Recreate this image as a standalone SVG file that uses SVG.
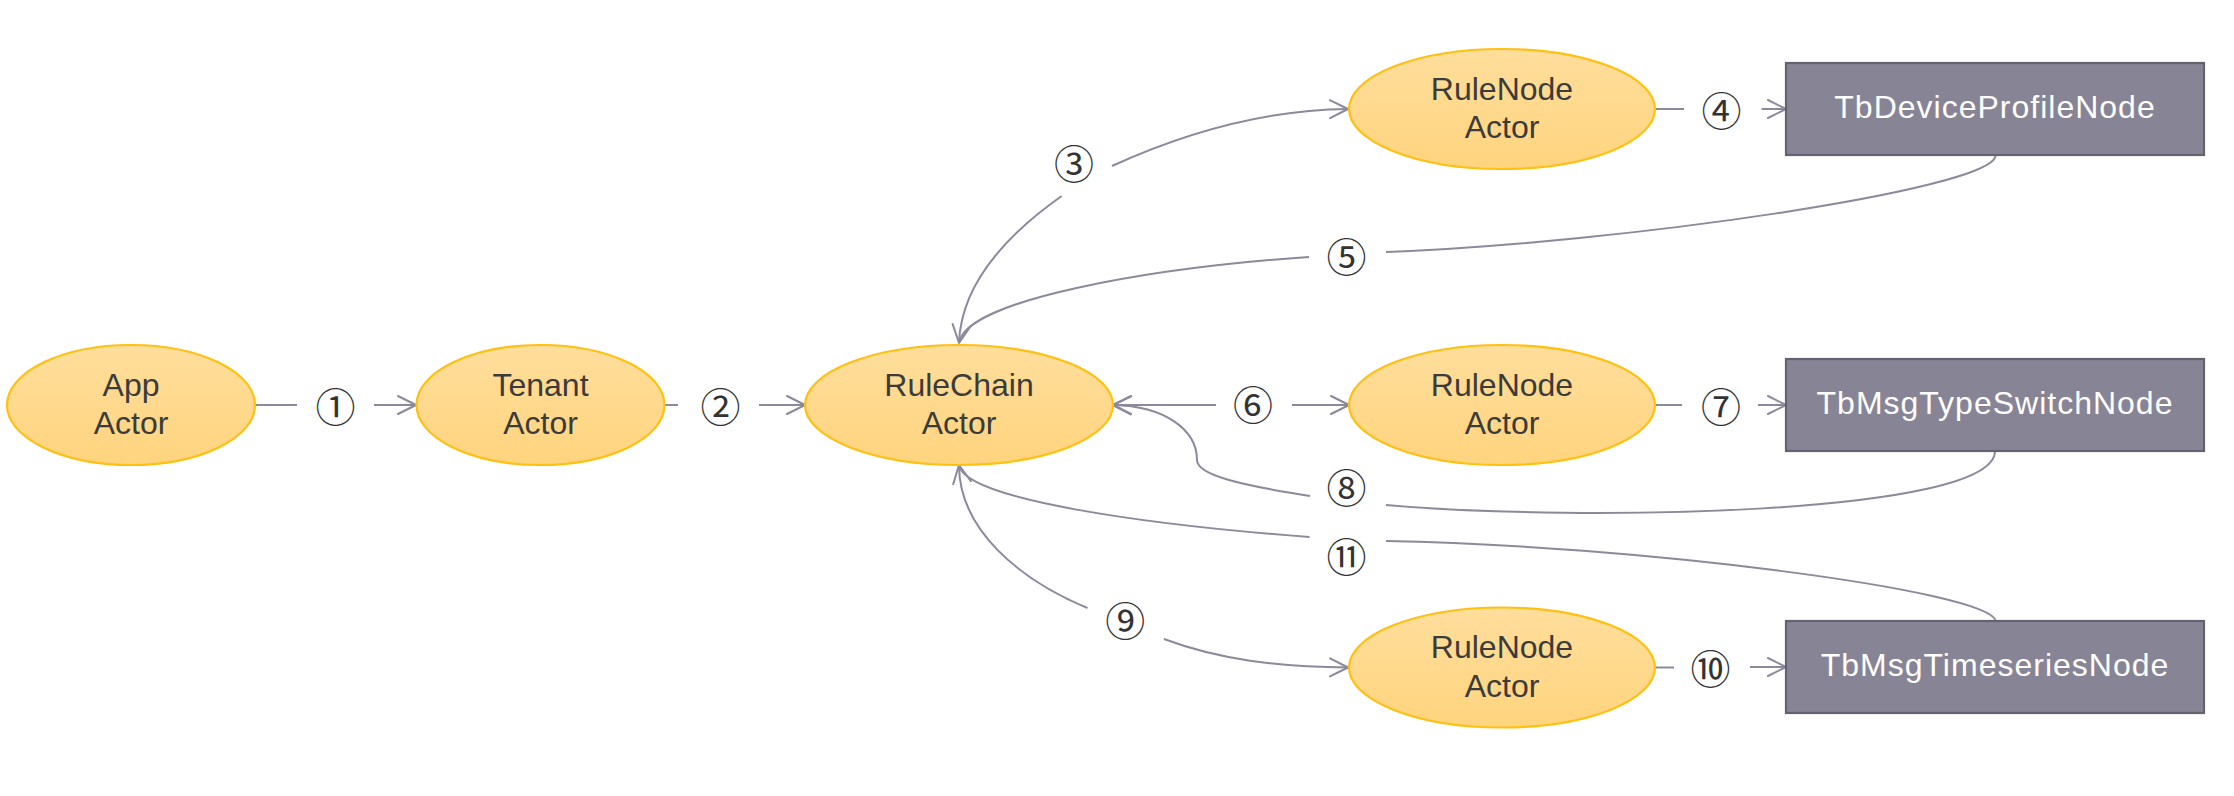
<svg xmlns="http://www.w3.org/2000/svg" width="2234" height="796" viewBox="0 0 2234 796">
<style>
.actor ellipse{fill:url(#gold);stroke:#FFC010;stroke-width:2.2}
.actor text{font-family:"Liberation Sans",Arial,sans-serif;font-size:32px;fill:#3b3b3b;text-anchor:middle}
.box rect{fill:#878496;stroke:#65626f;stroke-width:2.2}
.box text{font-family:"Liberation Sans",Arial,sans-serif;font-size:32px;fill:#ffffff;text-anchor:middle;letter-spacing:1px}
.conn path{fill:none;stroke:#8b899c;stroke-width:2}
.conn path.a{marker-end:url(#arr)}
.num{font-family:"Noto Sans CJK SC","Noto Sans CJK JP","DejaVu Sans",sans-serif;font-size:40px;fill:#333333;text-anchor:middle;dominant-baseline:central}
</style>
<defs>
<linearGradient id="gold" x1="0" y1="0" x2="0" y2="1">
<stop offset="0" stop-color="#FFDE9C"/>
<stop offset="1" stop-color="#FFD47E"/>
</linearGradient>
<marker id="arr" markerUnits="userSpaceOnUse" viewBox="-22 -12 26 24" markerWidth="26" markerHeight="24" refX="0" refY="0" orient="auto" overflow="visible">
<path d="M-18,-9 L0,0 L-18,9" fill="none" stroke="#8b899c" stroke-width="2" stroke-linejoin="round" stroke-linecap="round"/>
</marker>
</defs>
<rect width="2234" height="796" fill="#ffffff"/>

<g id="connectors" class="conn">
<path d="M255,405 H297"/>
<path class="a" d="M374,405 H416"/>
<path d="M664.5,405 H678"/>
<path class="a" d="M759,405 H805"/>
<path d="M1061.7,196 C1005,236 961,285 959,343"/>
<path class="a" d="M1112,166 C1180,135 1260,110 1348,109"/>
<path d="M1655,109 H1684"/>
<path class="a" d="M1761.6,109 H1786"/>
<path d="M1995.6,156 C1990,190 1620,243 1386,252"/>
<path class="a" d="M1309,257 C1150,268 965,300 959,343"/>
<path class="a" d="M1216,405 H1113"/>
<path class="a" d="M1292,405 H1349"/>
<path d="M1655,405 H1682"/>
<path class="a" d="M1758,405 H1786"/>
<path d="M1995,451 C1995,515 1580,522 1386,505"/>
<path class="a" d="M1310,496 C1240,485 1197,475 1197,460 C1197,430 1165,406 1113,405"/>
<path d="M959,465 C959,530 1020,580 1087.5,608"/>
<path class="a" d="M1164,639 C1220,660 1280,667 1348,667.5"/>
<path d="M1655.6,667.5 H1674"/>
<path class="a" d="M1750,667 H1786"/>
<path d="M1995.6,621 C1990,590 1630,545 1386,541"/>
<path class="a" d="M1309.5,537 C1150,525 965,500 959,465"/>
</g>

<g id="labels">
<text class="num" x="335.6" y="405">①</text>
<text class="num" x="720.6" y="405">②</text>
<text class="num" x="1074" y="162">③</text>
<text class="num" x="1721.5" y="109">④</text>
<text class="num" x="1346.6" y="255">⑤</text>
<text class="num" x="1253" y="403">⑥</text>
<text class="num" x="1721" y="405">⑦</text>
<text class="num" x="1346.6" y="486">⑧</text>
<text class="num" x="1125.3" y="619">⑨</text>
<text class="num" x="1710.5" y="667">⑩</text>
<text class="num" x="1346.6" y="555">⑪</text>
</g>

<g id="app-actor" class="actor">
<ellipse cx="131" cy="405" rx="124" ry="60"/>
<text x="131" y="395.5">App</text>
<text x="131" y="434">Actor</text>
</g>
<g id="tenant-actor" class="actor">
<ellipse cx="540.5" cy="405" rx="124" ry="60"/>
<text x="540.5" y="395.5">Tenant</text>
<text x="540.5" y="434">Actor</text>
</g>
<g id="rulechain-actor" class="actor">
<ellipse cx="959" cy="405" rx="154" ry="60"/>
<text x="959" y="395.5">RuleChain</text>
<text x="959" y="434">Actor</text>
</g>
<g id="rulenode-actor-1" class="actor">
<ellipse cx="1502" cy="109" rx="153" ry="60"/>
<text x="1502" y="99.5">RuleNode</text>
<text x="1502" y="138">Actor</text>
</g>
<g id="rulenode-actor-2" class="actor">
<ellipse cx="1502" cy="405" rx="153" ry="60"/>
<text x="1502" y="395.5">RuleNode</text>
<text x="1502" y="434">Actor</text>
</g>
<g id="rulenode-actor-3" class="actor">
<ellipse cx="1502" cy="667.5" rx="153" ry="60"/>
<text x="1502" y="658">RuleNode</text>
<text x="1502" y="696.5">Actor</text>
</g>
<g id="tb-device-profile-node" class="box">
<rect x="1786" y="63" width="418" height="92"/>
<text x="1995" y="118">TbDeviceProfileNode</text>
</g>
<g id="tb-msg-type-switch-node" class="box">
<rect x="1786" y="359" width="418" height="92"/>
<text x="1995" y="414">TbMsgTypeSwitchNode</text>
</g>
<g id="tb-msg-timeseries-node" class="box">
<rect x="1786" y="621" width="418" height="92"/>
<text x="1995" y="676">TbMsgTimeseriesNode</text>
</g>
</svg>
